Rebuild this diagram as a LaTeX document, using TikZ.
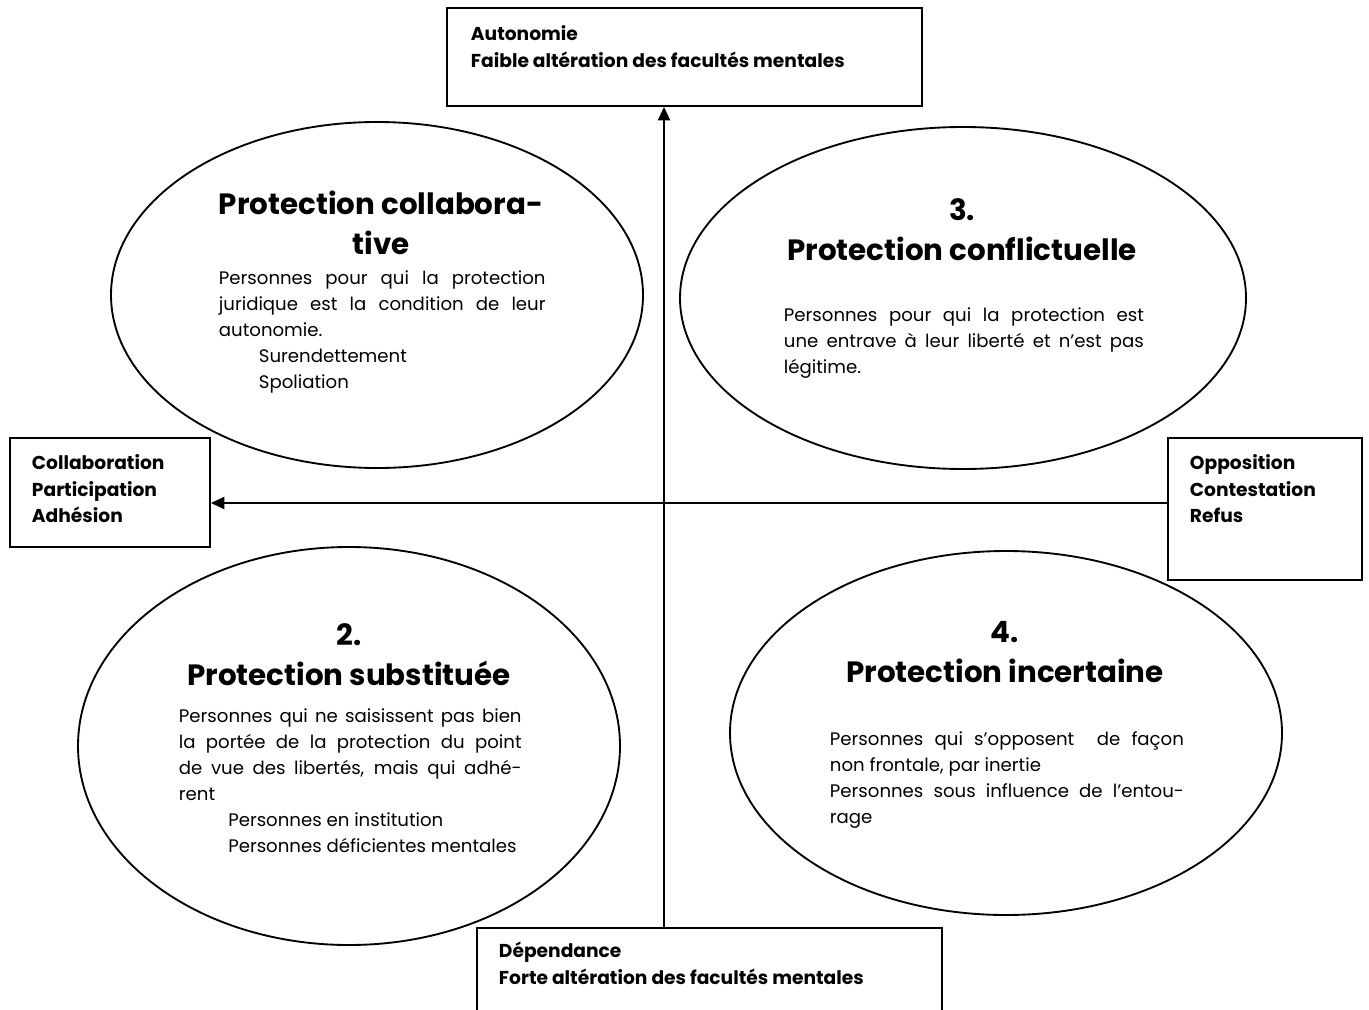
\documentclass[tikz,border=0pt]{standalone}
\usepackage{fontspec}
\setmainfont{Poppins}
\usetikzlibrary{shapes.geometric,arrows.meta,fit}
\begin{document}
\begin{tikzpicture}[x=0.75pt,y=-0.75pt,
  line width=1.4pt,
  frame/.style={draw, inner sep=0pt, fit={#1}},
  oval/.style={draw, ellipse, inner sep=0pt},
  lbl/.style={inner sep=0pt, anchor=north west, align=left, font=\fontsize{14}{20}\selectfont\bfseries},
  ttl/.style={inner sep=0pt, anchor=north, align=center, font=\fontsize{22}{30}\selectfont\bfseries},
  body/.style={inner sep=0pt, anchor=north west, align=left, font=\fontsize{13.6}{19.5}\selectfont},
  arr/.style={-{Triangle[width=9pt,length=10pt]}}
]
\useasboundingbox (0,0) rectangle (1369,1009);
\clip (0,0) rectangle (1369,1009);

% boxes
\node[frame={(447,8)(922,106)}] (top) {};
\node[frame={(10,438)(210,547)}] (lft) {};
\node[frame={(1168,438)(1362,580)}] (rgt) {};
\node[frame={(477,928)(942,1040)}] (bot) {};

\node[lbl] (topt) at (470,21) {\strut Autonomie\\Faible altération des facultés mentales};
\node[lbl] (lftt) at (31,450) {\strut Collaboration\\Participation\\Adhésion};
\node[lbl] (rgtt) at (1189,450) {\strut Opposition\\Contestation\\Refus};
\node[lbl] (bott) at (498,938) {\strut Dépendance\\Forte altération des facultés mentales};

% ellipses
\node[oval, minimum width=399pt, minimum height=259.5pt] (e1) at (377,295) {};
\node[oval, minimum width=424.5pt, minimum height=256.5pt] (e3) at (963,298) {};
\node[oval, minimum width=406.5pt, minimum height=298.5pt] (e2) at (349,746) {};
\node[oval, minimum width=414pt, minimum height=273pt] (e4) at (1006,733) {};

% axes
\coordinate (c) at (664,503);
\draw[arr] (bot.north -| c) -- (top.south -| c);
\draw[arr] (rgt.west |- c) -- (lft.east |- c);

% ellipse 1
\node[ttl] (t1) at (381,186) {\strut Protection collabora-\\tive};
\node[body] (b1) at (218,265) {\strut\makebox[245pt][s]{Personnes pour qui la protection}\\
\makebox[245pt][s]{juridique est la condition de leur}\\
autonomie.\\
\hspace*{30pt}Surendettement\\
\hspace*{30pt}Spoliation};

% ellipse 3
\node[ttl] (t3) at (962,192) {\strut 3.\\Protection conflictuelle};
\node[body] (b3) at (783,302) {\strut\makebox[270pt][s]{Personnes pour qui la protection est}\\
\makebox[270pt][s]{une entrave à leur liberté et n’est pas}\\
légitime.};

% ellipse 2
\node[ttl] (t2) at (349,617) {\strut 2.\\Protection substituée};
\node[body] (b2) at (178,703) {\strut\makebox[257pt][s]{Personnes qui ne saisissent pas bien}\\
\makebox[257pt][s]{la portée de la protection du point}\\
\makebox[257pt][s]{de vue des libertés, mais qui adhé-}\\
rent\\
\hspace*{37pt}Personnes en institution\\
\hspace*{37pt}Personnes déficientes mentales};

% ellipse 4
\node[ttl] (t4) at (1005,614) {\strut 4.\\Protection incertaine};
\node[body] (b4) at (829,726) {\strut\makebox[265.5pt][s]{Personnes qui s’opposent\ \ de façon}\\
non frontale, par inertie\\
\makebox[265.5pt][s]{Personnes sous influence de l’entou-}\\
rage};
\end{tikzpicture}
\end{document}
